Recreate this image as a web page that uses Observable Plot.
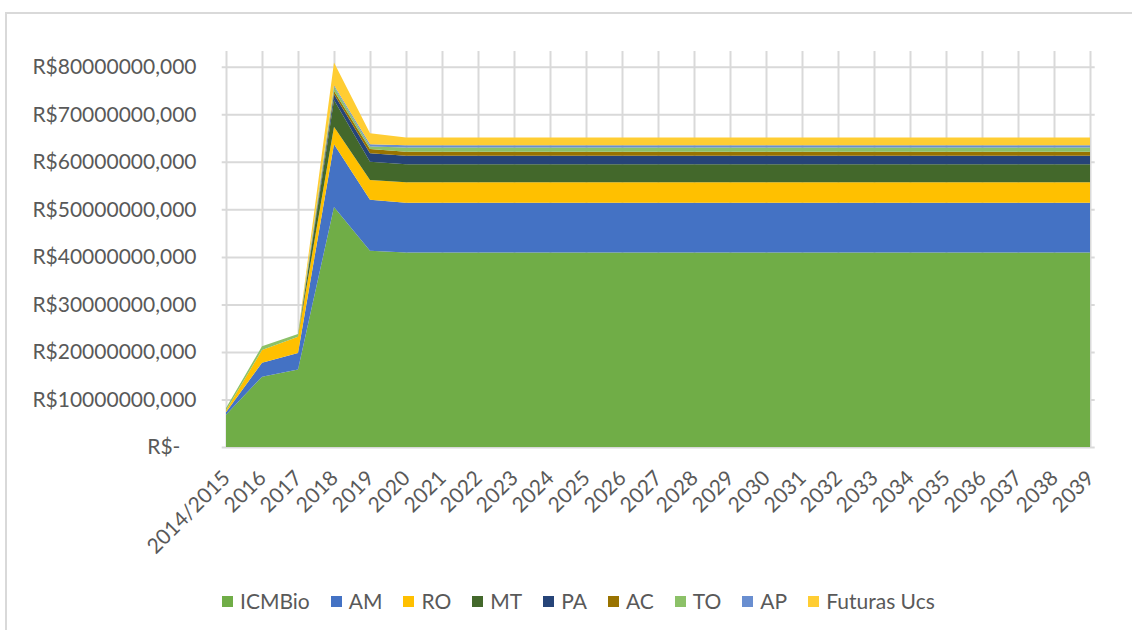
<!DOCTYPE html>
<html>
<head>
<meta charset="utf-8">
<script src="https://cdn.jsdelivr.net/npm/d3@7"></script>
<script src="https://cdn.jsdelivr.net/npm/@observablehq/plot@0.6"></script>
<style>
  html { overflow: hidden; margin: 0; padding: 0; }
  body { margin: 0; background: #ffffff; width: 1132px; height: 630px; overflow: hidden; position: relative; font-family: Lato, "Open Sans", sans-serif; }
  #hline { position: absolute; left: 5px; top: 12px; width: 1127px; height: 2px; background: #d9d9d9; }
  #vline { position: absolute; left: 5px; top: 12px; width: 2px; height: 618px; background: #d9d9d9; }
  #chart { position: absolute; left: 0; top: 0; width: 1132px; height: 575px; overflow: hidden; }
  #legend { position: absolute; left: 222px; top: 589px; display: flex; gap: 21px; font-size: 21px; color: #595959; line-height: 24px; white-space: nowrap; }
  .item { display: flex; align-items: center; }
  .sw { width: 11px; height: 11px; margin-right: 7px; }
</style>
</head>
<body>
<div id="hline"></div>
<div id="vline"></div>
<div id="chart"></div>
<div id="legend"></div>
<script>
const years = ["2014/2015","2016","2017","2018","2019","2020","2021","2022","2023","2024","2025","2026","2027","2028","2029","2030","2031","2032","2033","2034","2035","2036","2037","2038","2039"];

const seriesNames = ["ICMBio","AM","RO","MT","PA","AC","TO","AP","Futuras Ucs"];
const colors = ["#70AD47","#4472C4","#FFC000","#43682B","#264478","#997300","#8CC168","#698ED0","#FFCD33"];

const ICMBio = [6800000,14800000,16300000,50500000,41300000,40900000,40900000,40900000,40900000,40900000,40900000,40900000,40900000,40900000,40900000,40900000,40900000,40900000,40900000,40900000,40900000,40900000,40900000,40900000,40900000];
const AM = [500000,2900000,3500000,13200000,10700000,10500000,10500000,10500000,10500000,10500000,10500000,10500000,10500000,10500000,10500000,10500000,10500000,10500000,10500000,10500000,10500000,10500000,10500000,10500000,10500000];
const RO = [400000,2700000,3400000,3700000,4200000,4300000,4300000,4300000,4300000,4300000,4300000,4300000,4300000,4300000,4300000,4300000,4300000,4300000,4300000,4300000,4300000,4300000,4300000,4300000,4300000];
const MT = [0,0,0,5600000,3800000,3800000,3800000,3800000,3800000,3800000,3800000,3800000,3800000,3800000,3800000,3800000,3800000,3800000,3800000,3800000,3800000,3800000,3800000,3800000,3800000];
const PA = [0,0,0,1200000,1800000,1800000,1800000,1800000,1800000,1800000,1800000,1800000,1800000,1800000,1800000,1800000,1800000,1800000,1800000,1800000,1800000,1800000,1800000,1800000,1800000];
const AC = [0,0,0,700000,900000,800000,800000,800000,800000,800000,800000,800000,800000,800000,800000,800000,800000,800000,800000,800000,800000,800000,800000,800000,800000];
const TO = [500000,800000,600000,900000,500000,900000,900000,900000,900000,900000,900000,900000,900000,900000,900000,900000,900000,900000,900000,900000,900000,900000,900000,900000,900000];
const AP = [0,0,0,300000,500000,500000,500000,500000,500000,500000,500000,500000,500000,500000,500000,500000,500000,500000,500000,500000,500000,500000,500000,500000,500000];
const FuturasUcs = [0,0,0,4800000,2300000,1600000,1600000,1600000,1600000,1600000,1600000,1600000,1600000,1600000,1600000,1600000,1600000,1600000,1600000,1600000,1600000,1600000,1600000,1600000,1600000];

const yTicks = [0,10000000,20000000,30000000,40000000,50000000,60000000,70000000,80000000];
const yMax = 85000000;

const seriesValues = [ICMBio, AM, RO, MT, PA, AC, TO, AP, FuturasUcs];
const data = years.flatMap((year, i) =>
  seriesNames.map((name, k) => ({ year, series: name, value: seriesValues[k][i] }))
);

const grid = "#d9d9d9";

const plot = Plot.plot({
  width: 1132,
  height: 575,
  marginLeft: 221.7,
  marginRight: 37.3,
  marginTop: 43,
  marginBottom: 128,
  style: { fontFamily: "Lato, 'Open Sans', sans-serif", fontSize: "21px", color: "#595959", background: "transparent" },
  x: { type: "point", domain: years, padding: 0, label: null },
  y: { domain: [0, yMax], label: null },
  color: { domain: seriesNames, range: colors },
  marks: [
    Plot.ruleY(yTicks.filter(d => d > 0), { y: d => d, stroke: grid, strokeWidth: 2 }),
    Plot.ruleX(years, { x: d => d, y1: 0, y2: yMax, insetBottom: -8, stroke: grid, strokeWidth: 2 }),
    Plot.ruleY([0], { y: d => d, stroke: grid, strokeWidth: 2 }),
    Plot.areaY(data, { x: "year", y: "value", z: "series", fill: "series", order: seriesNames, curve: "linear" }),
    Plot.axisY({ ticks: yTicks, tickSize: 0, tickPadding: 25.7, label: null, fontSize: 21,
      tickFormat: d => d === 0 ? "R$-\u00a0\u00a0\u00a0" : "R$" + d + ",000" }),
    Plot.axisX({ tickSize: 0, tickRotate: -45, tickPadding: 27, label: null, fontSize: 21 })
  ]
});
document.getElementById("chart").appendChild(plot);

const legend = document.getElementById("legend");
seriesNames.forEach((name, k) => {
  const item = document.createElement("div");
  item.className = "item";
  const sw = document.createElement("span");
  sw.className = "sw";
  sw.style.background = colors[k];
  const label = document.createElement("span");
  label.textContent = name;
  item.appendChild(sw);
  item.appendChild(label);
  legend.appendChild(item);
});
</script>
</body>
</html>
